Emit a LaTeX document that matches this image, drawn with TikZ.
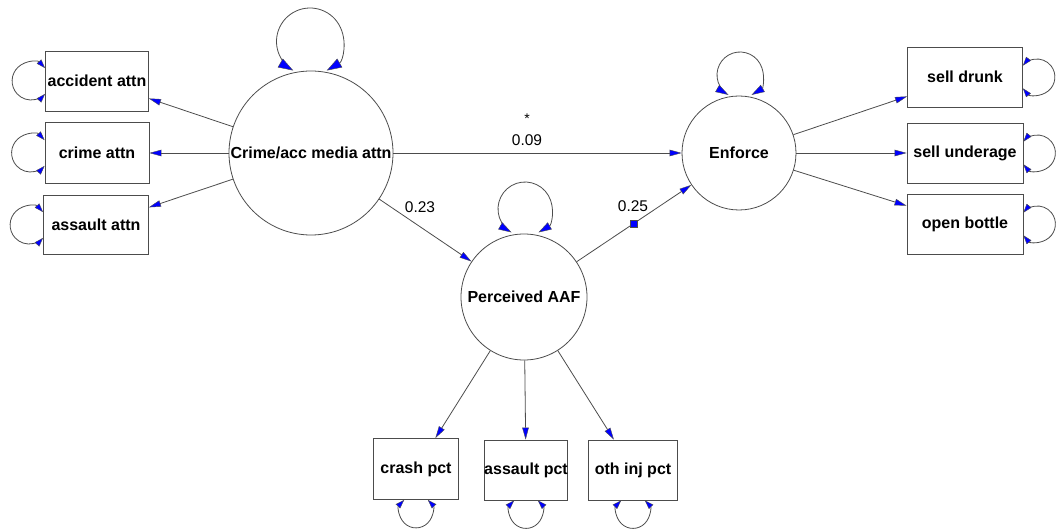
\documentclass[tikz,border=0pt]{standalone}
\usepackage{fontspec}
\setmainfont{Liberation Sans}
\usetikzlibrary{arrows.meta,calc}
\begin{document}
\begin{tikzpicture}[x=1pt,y=-1pt,
  lc/.style={draw=black!70, line width=0.8pt},
  lat/.style={circle, lc, font=\fontsize{16}{19}\selectfont\bfseries, inner sep=0pt},
  obs/.style={rectangle, lc, font=\fontsize{16}{19}\selectfont\bfseries, inner sep=0pt},
  lbl/.style={font=\fontsize{15.5}{18}\selectfont, inner sep=0pt},
  edgearr/.style={lc, -{Triangle[length=12pt,width=6.5pt,fill=blue,line width=0.4pt]}},
  smallloop/.style={lc, {Triangle[length=9pt,width=6pt,fill=blue,line width=0.4pt]}-{Triangle[length=9pt,width=6pt,fill=blue,line width=0.4pt]}},
  bigloop/.style={lc, {Triangle[length=15pt,width=10pt,fill=blue,line width=0.4pt]}-{Triangle[length=15pt,width=10pt,fill=blue,line width=0.4pt]}},
  midloop/.style={lc, {Triangle[length=13pt,width=8pt,fill=blue,line width=0.4pt]}-{Triangle[length=13pt,width=8pt,fill=blue,line width=0.4pt]}}
]
\useasboundingbox (0,0) rectangle (1059,529);

% latent variables
\node[lat, minimum size=164pt] (crime) at (311,153) {Crime/acc media attn};
\node[lat, minimum size=114pt] (enf) at (739,153) {Enforce};
\node[lat, minimum size=126pt] (paaf) at (524,297) {Perceived AAF};

% observed variables
\node[obs, minimum width=103pt, minimum height=60pt] (acc) at (97,81) {accident attn};
\node[obs, minimum width=104pt, minimum height=61pt] (cra) at (97,153) {crime attn};
\node[obs, minimum width=105pt, minimum height=59pt] (asa) at (96,225) {assault attn};
\node[obs, minimum width=115pt, minimum height=60pt] (sdr) at (965,77) {sell drunk};
\node[obs, minimum width=116pt, minimum height=60pt] (sun) at (965,153) {sell underage};
\node[obs, minimum width=116pt, minimum height=60pt] (opb) at (965,224) {open bottle};
\node[obs, minimum width=85pt, minimum height=61pt] (crp) at (416,469) {crash pct};
\node[obs, minimum width=82pt, minimum height=60pt] (asp) at (526,470) {assault pct};
\node[obs, minimum width=89pt, minimum height=60pt] (oip) at (633,470) {oth inj pct};

% structural paths
\draw[edgearr] (crime) -- (enf);
\draw[edgearr] (crime) -- (paaf);
\draw[edgearr] (paaf) -- node[pos=0.5, rectangle, draw=black!70, line width=0.4pt, fill=blue, minimum size=7pt, inner sep=0pt] (sq) {} (enf);

% labels
\node[lbl] (l09) at (527,140) {0.09};
\node[font=\fontsize{14}{15}\selectfont, inner sep=0pt] (star) at (527,119) {*};
\node[lbl] (l23) at (420,207) {0.23};
\node[lbl] (l25) at (633,206) {0.25};

% measurement paths
\draw[edgearr] (crime) -- (acc);
\draw[edgearr] (crime) -- (cra);
\draw[edgearr] (crime) -- (asa);
\draw[edgearr] (enf) -- (sdr);
\draw[edgearr] (enf) -- (sun);
\draw[edgearr] (enf) -- (opb);
\draw[edgearr] (paaf) -- (crp);
\draw[edgearr] (paaf) -- (asp);
\draw[edgearr] (paaf) -- (oip);

% self loops on latent variables
\draw[bigloop] ($(crime.center)+(-1,-111.5)$) ++(-60:33.5pt) arc[start angle=-60, end angle=240, radius=33.5pt];
\draw[midloop] ($(enf.center)+(1,-78)$) ++(-60:23pt) arc[start angle=-60, end angle=240, radius=23pt];
\draw[midloop] ($(paaf.center)+(1,-88)$) ++(-60:27pt) arc[start angle=-60, end angle=240, radius=27pt];

% self loops on left boxes
\foreach \b in {acc,cra,asa}{
  \draw[smallloop] ($(\b.west)+(-14,0)$) ++(42.6:19pt) arc[start angle=42.6, end angle=317.4, radius=19pt];
}
% self loops on right boxes
\foreach \b in {sdr,sun,opb}{
  \draw[smallloop] ($(\b.east)+(14,0)$) ++(-141.1:18pt) arc[start angle=-141.1, end angle=141.1, radius=18pt];
}
% self loops on bottom boxes
\foreach \b in {crp,asp,oip}{
  \draw[smallloop] ($(\b.south)+(0,11.5)$) ++(135.8:16.5pt) arc[start angle=135.8, end angle=404.2, radius=16.5pt];
}
\end{tikzpicture}
\end{document}
